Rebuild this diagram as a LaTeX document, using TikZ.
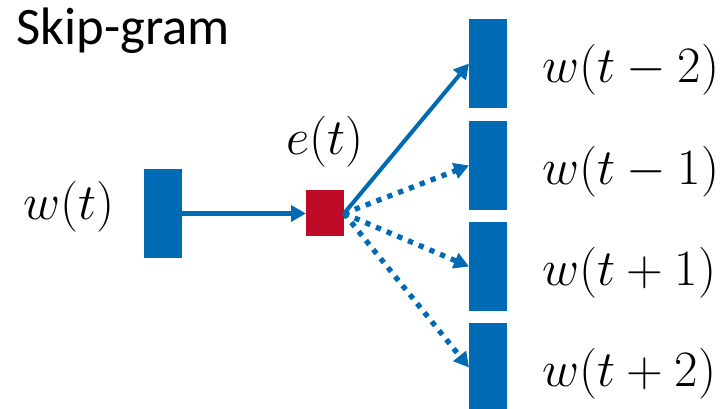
\RequirePackage{fix-cm}
\documentclass[tikz,border=0pt]{standalone}
\usepackage{fontspec}
\newfontfamily\calibri{Carlito}
\usepackage{tikz}
\usetikzlibrary{arrows.meta,positioning,calc}
\definecolor{wblue}{RGB}{0,106,180}
\definecolor{ered}{RGB}{190,10,38}
\tikzset{vec/.style={rectangle, minimum width=0.76cm, minimum height=1.78cm, inner sep=0, outer sep=0, fill=wblue},
word/.style={inner sep=0, font=\fontsize{29}{34}\selectfont},
link/.style={wblue, line width=2.3pt, -{Triangle[length=8.5pt,width=9pt]}},
dotlink/.style={link, line width=3pt, dash pattern=on 3pt off 3.6pt}}

\begin{document}
\begin{tikzpicture}
		\useasboundingbox (0,0) rectangle (14.46,8.18);
		\node[anchor=base west, inner sep=0, font=\calibri\fontsize{30}{36}\selectfont] (title) at (0.32,7.28) {Skip-gram};
		% input word, projection and the context words
		\node[vec] (in) at (3.26,3.91) {};
		\node[vec, fill=ered, minimum height=0.92cm] (proj) at (6.5,3.91) {};
		\foreach \i/\y in {1/6.91,2/4.87,3/2.85,4/0.83}
			\node[vec] (out\i) at (9.76,\y) {};
		\node[word, anchor=base east] (win) at ($(in.west)+(-0.58,-0.13)$) {$w(t)$};
		\node[word, anchor=base] (eproj) at (6.5,5.08) {$e(t)$};
		\node[word, anchor=base west] at ($(out1.east)+(0.7,-0.39)$) {$w(t-2)$};
		\node[word, anchor=base west] at ($(out2.east)+(0.7,-0.39)$) {$w(t-1)$};
		\node[word, anchor=base west] at ($(out3.east)+(0.7,-0.39)$) {$w(t+1)$};
		\node[word, anchor=base west] at ($(out4.east)+(0.7,-0.39)$) {$w(t+2)$};
		\draw[link] (in) -- (proj);
		\draw[link] (proj.east) -- (out1.west);
		\foreach \i in {2,3,4}
			\draw[dotlink] (proj.east) -- (out\i.west);
\end{tikzpicture}
\end{document}
